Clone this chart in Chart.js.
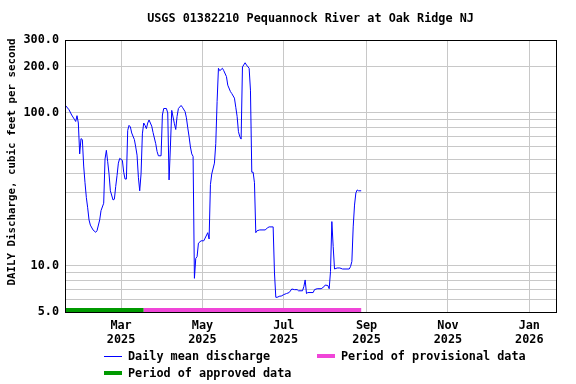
<!DOCTYPE html>
<html lang="en">
<head>
    <meta charset="UTF-8">
    <title>USGS 01382210 Pequannock River at Oak Ridge NJ</title>
    <style>
        body {
            margin: 0;
            background-color: #fff;
        }

        .wrap {
            position: relative;
            width: 576px;
            height: 384px;
        }

        .legend-item {
            position: absolute;
            height: 14px;
            display: flex;
            align-items: center;
            white-space: nowrap;
            font: bold 11.8px "DejaVu Sans Mono", monospace;
            color: #000;
        }

        .swatch {
            display: inline-block;
            width: 18px;
            margin-right: 6px;
        }
    </style>
</head>
<body>
    <div class="wrap">
        <canvas id="flowChart" width="576" height="384"></canvas>

        <!-- Legend -->
        <div class="legend-item" style="left:104px; top:349px;">
            <span class="swatch" style="height:1px; background:#0000ff;"></span>Daily mean discharge
        </div>
        <div class="legend-item" style="left:317px; top:349px;">
            <span class="swatch" style="height:4px; background:#f045d8;"></span>Period of provisional data
        </div>
        <div class="legend-item" style="left:104px; top:366px;">
            <span class="swatch" style="height:4px; background:#009a00;"></span>Period of approved data
        </div>
    </div>

    <script src="https://cdn.jsdelivr.net/npm/chart.js"></script>
    <script>
        // Daily mean discharge (cfs)
        const flowDates = [
            '2025-01-18', '2025-01-21', '2025-01-23', '2025-01-25', '2025-01-26', '2025-01-27', '2025-01-28',
            '2025-01-29', '2025-01-30', '2025-01-31', '2025-02-01', '2025-02-02', '2025-02-03', '2025-02-04',
            '2025-02-05', '2025-02-06', '2025-02-08', '2025-02-10', '2025-02-11', '2025-02-13', '2025-02-14',
            '2025-02-16', '2025-02-17', '2025-02-18', '2025-02-19', '2025-02-20', '2025-02-21', '2025-02-23',
            '2025-02-24', '2025-02-25', '2025-02-26', '2025-02-27', '2025-02-28', '2025-03-02', '2025-03-03',
            '2025-03-04', '2025-03-05', '2025-03-06', '2025-03-07', '2025-03-08', '2025-03-09', '2025-03-11',
            '2025-03-12', '2025-03-13', '2025-03-14', '2025-03-15', '2025-03-16', '2025-03-17', '2025-03-18',
            '2025-03-19', '2025-03-20', '2025-03-21', '2025-03-22', '2025-03-24', '2025-03-25', '2025-03-27',
            '2025-03-28', '2025-03-29', '2025-03-31', '2025-04-01', '2025-04-02', '2025-04-04', '2025-04-05',
            '2025-04-06', '2025-04-07', '2025-04-08', '2025-04-10', '2025-04-11', '2025-04-12', '2025-04-13',
            '2025-04-15', '2025-04-16', '2025-04-18', '2025-04-19', '2025-04-20', '2025-04-21', '2025-04-22',
            '2025-04-23', '2025-04-24', '2025-04-25', '2025-04-26', '2025-04-27', '2025-04-28', '2025-04-30',
            '2025-05-02', '2025-05-03', '2025-05-05', '2025-05-06', '2025-05-07', '2025-05-08', '2025-05-10',
            '2025-05-11', '2025-05-12', '2025-05-13', '2025-05-14', '2025-05-16', '2025-05-17', '2025-05-19',
            '2025-05-20', '2025-05-22', '2025-05-23', '2025-05-25', '2025-05-26', '2025-05-27', '2025-05-28',
            '2025-05-29', '2025-05-30', '2025-05-31', '2025-06-02', '2025-06-03', '2025-06-05', '2025-06-06',
            '2025-06-07', '2025-06-08', '2025-06-09', '2025-06-10', '2025-06-11', '2025-06-13', '2025-06-17',
            '2025-06-19', '2025-06-20', '2025-06-23', '2025-06-24', '2025-06-25', '2025-06-26', '2025-06-28',
            '2025-06-29', '2025-07-01', '2025-07-03', '2025-07-05', '2025-07-07', '2025-07-09', '2025-07-11',
            '2025-07-12', '2025-07-15', '2025-07-16', '2025-07-17', '2025-07-18', '2025-07-19', '2025-07-23',
            '2025-07-24', '2025-07-26', '2025-07-29', '2025-07-31', '2025-08-01', '2025-08-03', '2025-08-04',
            '2025-08-05', '2025-08-06', '2025-08-07', '2025-08-08', '2025-08-10', '2025-08-12', '2025-08-14',
            '2025-08-19', '2025-08-20', '2025-08-21', '2025-08-22', '2025-08-23', '2025-08-24', '2025-08-25',
            '2025-08-26', '2025-08-28'
        ];
        const flowValues = [
            113, 105, 97, 91, 88, 96, 86,
            54, 68, 67, 45, 35, 28, 24,
            20, 18.5, 17.2, 16.6, 17, 20, 23,
            25.7, 50, 57, 48, 40, 31, 27,
            27.3, 33, 39, 47, 50.5, 49, 41,
            37, 37, 77, 83, 81, 74, 67,
            60, 53, 38, 31, 40, 73, 86,
            83, 79, 86, 90, 82, 74.5, 63,
            56, 52.5, 52.5, 97, 107, 107, 100,
            36.5, 60, 104, 85, 78, 95, 107,
            112, 109, 102, 93, 80, 70, 60,
            54, 52, 8.3, 11.2, 11.5, 14.1, 14.6,
            14.6, 15.2, 16.5, 15, 34, 40, 47,
            63, 119, 196, 189, 196, 189, 173,
            152, 138, 134, 125, 109, 95, 75.5,
            70, 67.5, 200, 213, 206, 196, 141,
            41, 41, 35, 16.5, 17, 17.2, 17.2,
            17.8, 18, 18, 9, 6.24, 6.24, 6.35,
            6.35, 6.5, 6.6, 6.7, 7.07, 7.0, 7.0,
            6.88, 6.88, 7.32, 8.1, 6.6, 6.7, 6.7,
            7.0, 7.1, 7.1, 7.3, 7.5, 7.45, 7.1,
            9.2, 19.5, 13.4, 9.55, 9.7, 9.7, 9.55,
            9.55, 9.9, 10.7, 18, 25, 30, 31.4,
            31, 31
        ];

        // Data status periods [start, end]
        const approvedPeriod = ['2025-01-18', '2025-03-18'];
        const provisionalPeriod = ['2025-03-18', '2025-08-28'];

        // Axes
        const xRange = ['2025-01-18', '2026-01-21'];
        const xTickDates = ['2025-03-01', '2025-05-01', '2025-07-01', '2025-09-01', '2025-11-01', '2026-01-01'];
        const xTickLabels = [['Mar', '2025'], ['May', '2025'], ['Jul', '2025'], ['Sep', '2025'], ['Nov', '2025'], ['Jan', '2026']];
        const yTicks = [5, 6, 7, 8, 9, 10, 20, 30, 40, 50, 60, 70, 80, 90, 100, 200, 300];
        const yLabeled = [5, 10, 100, 200, 300];

        const chartTitle = 'USGS 01382210 Pequannock River at Oak Ridge NJ';
        const yAxisTitle = 'DAILY Discharge, cubic feet per second';

        // days since 2025-01-01 (no date adapter available, so use a linear axis)
        const dayZero = Date.parse('2025-01-01');
        function toDay(s) {
            return (Date.parse(s) - dayZero) / 86400000;
        }

        const FONT = "'DejaVu Sans Mono', monospace";
        Chart.defaults.font.family = FONT;
        Chart.defaults.font.size = 11.8;
        Chart.defaults.font.weight = 'bold';
        Chart.defaults.color = '#000';

        // strips for approved / provisional periods, the box, and the titles
        const framePlugin = {
            id: 'frame',
            afterDatasetsDraw(chart) {
                const ctx = chart.ctx;
                const area = chart.chartArea;
                const x = chart.scales.x;
                const strips = [
                    [approvedPeriod, '#009a00'],
                    [provisionalPeriod, '#f045d8']
                ];
                ctx.save();
                strips.forEach(function(s) {
                    const x1 = x.getPixelForValue(toDay(s[0][0]));
                    const x2 = x.getPixelForValue(toDay(s[0][1]));
                    ctx.fillStyle = s[1];
                    ctx.fillRect(x1, area.bottom - 4, x2 - x1, 4);
                });
                ctx.strokeStyle = '#000';
                ctx.lineWidth = 1;
                ctx.strokeRect(Math.round(area.left) + 0.5, Math.round(area.top) + 0.5,
                    Math.round(area.right - area.left), Math.round(area.bottom - area.top));

                // title centred over the plot area
                ctx.fillStyle = '#000';
                ctx.textAlign = 'center';
                ctx.textBaseline = 'middle';
                ctx.font = "bold 11.8px " + FONT;
                ctx.fillText(chartTitle, (area.left + area.right) / 2, 19);

                // y-axis title
                ctx.font = "bold 10.8px " + FONT;
                ctx.translate(12, 162);
                ctx.rotate(-Math.PI / 2);
                ctx.fillText(yAxisTitle, 0, 0);
                ctx.restore();
            }
        };

        const ctx = document.getElementById('flowChart').getContext('2d');
        const flowChart = new Chart(ctx, {
            type: 'line',
            data: {
                datasets: [{
                    label: 'Daily mean discharge',
                    data: flowDates.map(function(d, i) {
                        return { x: toDay(d), y: flowValues[i] };
                    }),
                    borderColor: '#0000ff',
                    borderWidth: 1,
                    pointRadius: 0,
                    tension: 0
                }]
            },
            options: {
                responsive: false,
                animation: false,
                devicePixelRatio: 1,
                layout: {
                    padding: { top: 40, right: 20, bottom: 0, left: 0 }
                },
                plugins: {
                    legend: { display: false },
                    tooltip: { enabled: false },
                    title: { display: false }
                },
                scales: {
                    x: {
                        type: 'linear',
                        min: toDay(xRange[0]),
                        max: toDay(xRange[1]),
                        afterBuildTicks: function(scale) {
                            scale.ticks = xTickDates.map(function(d) { return { value: toDay(d) }; });
                        },
                        afterFit: function(scale) {
                            scale.height = 72;
                        },
                        ticks: {
                            autoSkip: false,
                            maxRotation: 0,
                            padding: 7,
                            font: { family: FONT, size: 11.8, weight: 'bold', lineHeight: 1.2 },
                            callback: function(value, index) {
                                return xTickLabels[index];
                            }
                        },
                        grid: { color: '#c8c8c8', drawTicks: false },
                        border: { display: false }
                    },
                    y: {
                        type: 'logarithmic',
                        min: 5,
                        max: 300,
                        afterBuildTicks: function(scale) {
                            scale.ticks = yTicks.map(function(v) { return { value: v }; });
                        },
                        afterFit: function(scale) {
                            scale.width = 65;
                        },
                        ticks: {
                            autoSkip: false,
                            padding: 6,
                            callback: function(value) {
                                return yLabeled.includes(value) ? value.toFixed(1) : '';
                            }
                        },
                        grid: { color: '#c8c8c8', drawTicks: false },
                        border: { display: false }
                    }
                }
            },
            plugins: [framePlugin]
        });
    </script>
</body>
</html>
